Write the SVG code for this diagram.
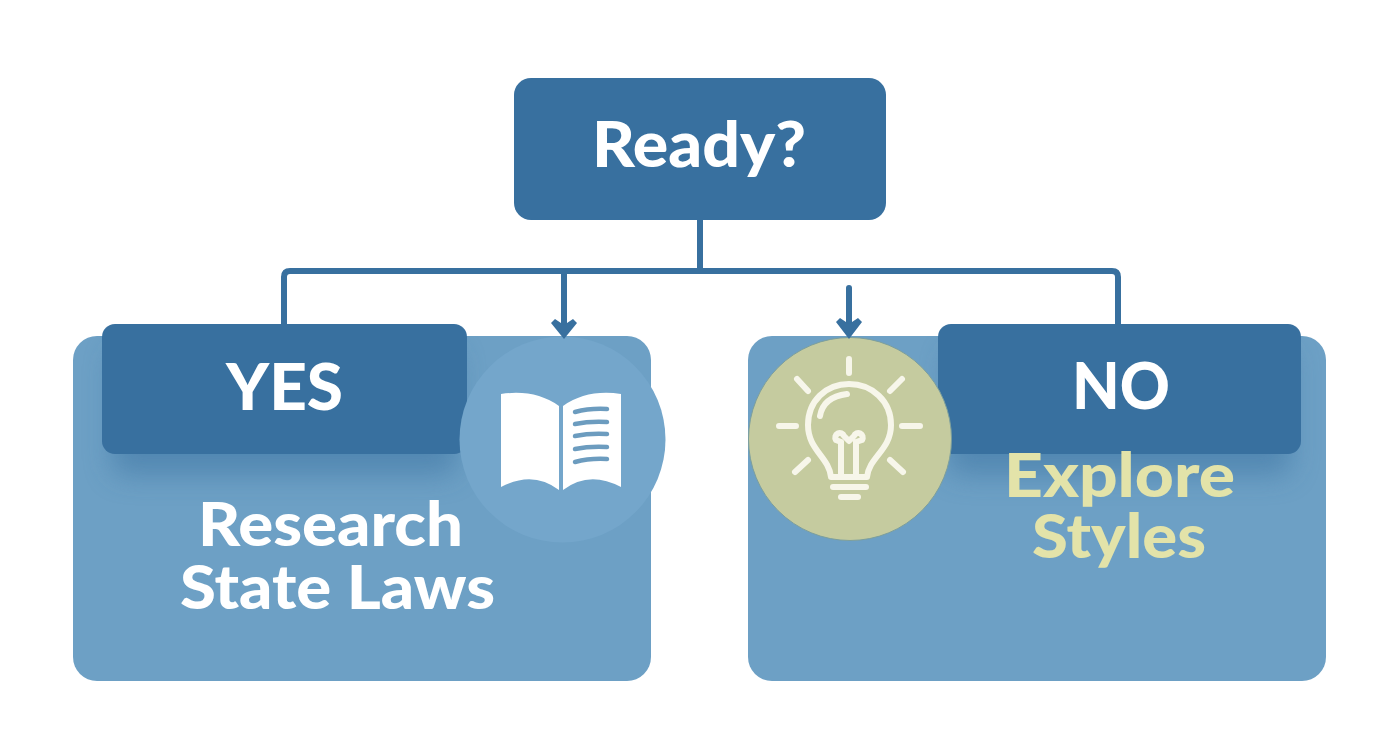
<svg xmlns="http://www.w3.org/2000/svg" width="1392" height="752" viewBox="0 0 1392 752">
<style>
text{font-family:"Lato","Open Sans","Liberation Sans",sans-serif;font-weight:900;text-anchor:middle}
.head{fill:#38709f}
.panel{fill:#6da0c5}
.wire{fill:none;stroke:#38709f;stroke-width:6;stroke-linejoin:round}
.white{fill:#fff}
.pale{fill:none;stroke:#f7f6ea;stroke-width:6;stroke-linecap:round;stroke-linejoin:round}
</style>
<defs>
<filter id="sh" x="-20%" y="-20%" width="140%" height="160%"><feGaussianBlur stdDeviation="14"/></filter>
<clipPath id="cl"><rect x="73" y="336" width="578" height="345" rx="24"/></clipPath>
<clipPath id="cr"><rect x="748" y="336" width="578" height="345" rx="24"/></clipPath>
</defs>
<rect width="1392" height="752" fill="#fff"/>
<g id="ready">
<rect class="head" x="514" y="78" width="372" height="142" rx="17"/>
<text x="699" y="167" font-size="62" fill="#fff" textLength="214" lengthAdjust="spacingAndGlyphs">Ready?</text>
</g>
<g id="yes">
<rect class="panel" x="73" y="336" width="578" height="345" rx="24"/>
<g clip-path="url(#cl)"><rect x="112" y="350" width="345" height="125" rx="12" fill="#38709f" opacity=".5" filter="url(#sh)"/></g>
<rect class="head" x="102" y="324" width="365" height="130" rx="13"/>
<text x="284.500" y="410" font-size="64" fill="#fff" textLength="117" lengthAdjust="spacingAndGlyphs">YES</text>
<text x="330.500" y="546" font-size="60" fill="#fff" textLength="265" lengthAdjust="spacingAndGlyphs">Research</text>
<text x="337.500" y="609" font-size="60" fill="#fff" textLength="315" lengthAdjust="spacingAndGlyphs">State Laws</text>
</g>
<g id="book">
<circle cx="562.5" cy="439.5" r="103" fill="#74a6cb"/>
<path class="white" d="M501 394Q535 389 559 406V490Q533 470 501 487Z"/>
<path class="white" d="M563 406Q587 389 621 394V487Q589 470 563 490Z"/>
<path d="M575 412Q590 408 607 409M575 424Q590 421 607 422M575 436Q590 433 607 434M575 449Q590 446 607 447M575 462Q590 458 607 459" fill="none" stroke="#6c9cbf" stroke-width="4.500" stroke-linecap="round"/>
</g>
<g id="no">
<rect class="panel" x="748" y="336" width="578" height="345" rx="24"/>
<g clip-path="url(#cr)"><rect x="948" y="350" width="343" height="125" rx="12" fill="#38709f" opacity=".5" filter="url(#sh)"/></g>
<rect class="head" x="938" y="324" width="363" height="130" rx="13"/>
<text x="1121" y="409" font-size="64" fill="#fff" textLength="98" lengthAdjust="spacingAndGlyphs">NO</text>
<text x="1119.500" y="497" font-size="60" fill="#e3e3a9" textLength="231" lengthAdjust="spacingAndGlyphs">Explore</text>
<text x="1119" y="558" font-size="60" fill="#e3e3a9" textLength="174" lengthAdjust="spacingAndGlyphs">Styles</text>
</g>
<g id="bulb">
<circle cx="850" cy="439" r="101.5" fill="#c5cb9f" stroke="#7d9f9c" stroke-width="1"/>
<path class="pale" d="M849 359V373M779 426H796M902 426H920M797 379L808 391M902 379L890 391M795 472L808 460M903 472L890 460"/>
<path class="pale" d="M831 477C829 457 808 450 808 425C808 401 826 384 849 384C872 384 891 401 891 425C891 450 869 457 867 477Z"/>
<path class="pale" stroke-width="4" d="M820 416C822 404 831 396 847 394"/>
<path class="pale" stroke-width="4" d="M841 475V442M856 475V442M841 442L836 440A4.500 4.500 0 1 1 844 436L849 441L854 436A4.500 4.500 0 1 1 862 440L856 442"/>
<path class="pale" stroke-width="7" d="M833 487H866"/>
<path class="pale" stroke-width="6" d="M841 497H858"/>
</g>
<g id="connectors">
<path class="wire" d="M700 219V271M284 326V277Q284 271 290 271H1112Q1118 271 1118 277V326"/>
<path class="wire" d="M564 271V328"/>
<path d="M555 319L564 325L573 319L577 323L564 339L551 323Z" fill="#38709f"/>
<path class="wire" stroke-linecap="round" d="M849 288V328"/>
<path d="M840 318L849 324L858 318L862 322L849 339L836 322Z" fill="#38709f"/>
</g>
</svg>
